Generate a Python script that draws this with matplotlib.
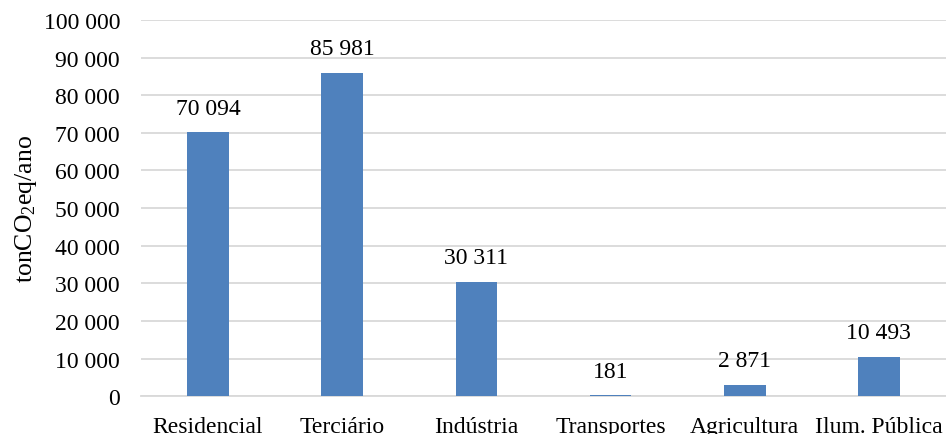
import matplotlib.pyplot as plt
from matplotlib.ticker import FuncFormatter

# Emissões por sector (tonCO2eq/ano)
sectors = ["Residencial", "Terciário", "Indústria", "Transportes", "Agricultura", "Ilum. Pública"]
emissions = [70094, 85981, 30311, 181, 2871, 10493]
y_ticks = list(range(0, 100001, 10000))

plt.rcParams['font.family'] = ['Liberation Serif', 'DejaVu Serif']
plt.rcParams['mathtext.fontset'] = 'custom'
plt.rcParams['mathtext.rm'] = 'Liberation Serif'
plt.rcParams['mathtext.it'] = 'Liberation Serif:italic'

FS = 17


def fmt_thousands(v, pos=None):
    return f"{int(v):,}".replace(",", " ")


fig = plt.figure(figsize=(9.46, 4.35), dpi=100)
ax = fig.add_axes([0.149, 0.087, 0.851, 0.865])

bars = ax.bar(range(len(sectors)), emissions, width=0.31, color="#4f81bd", zorder=3)
ax.bar_label(bars, labels=[fmt_thousands(v) for v in emissions], padding=10, fontsize=FS)

ax.set_xlim(-0.5, len(sectors) - 0.5)
ax.set_ylim(0, 100000)
ax.set_yticks(y_ticks)
ax.yaxis.set_major_formatter(FuncFormatter(fmt_thousands))
ax.set_xticks(range(len(sectors)))
ax.set_xticklabels(sectors)

ax.grid(axis="y", color="#d9d9d9", linewidth=1.3, zorder=0)
for s in ["top", "right", "left"]:
    ax.spines[s].set_visible(False)
ax.spines["bottom"].set_color("#d9d9d9")
ax.spines["bottom"].set_linewidth(1.3)
ax.tick_params(axis="y", length=0, pad=15, labelsize=FS)
ax.tick_params(axis="x", length=0, pad=14, labelsize=FS)

ax.set_ylabel(r"tonCO$_\mathregular{2}$eq/ano", fontsize=18.5, labelpad=3)

fig.savefig("out.png", dpi=100)
plt.close(fig)
